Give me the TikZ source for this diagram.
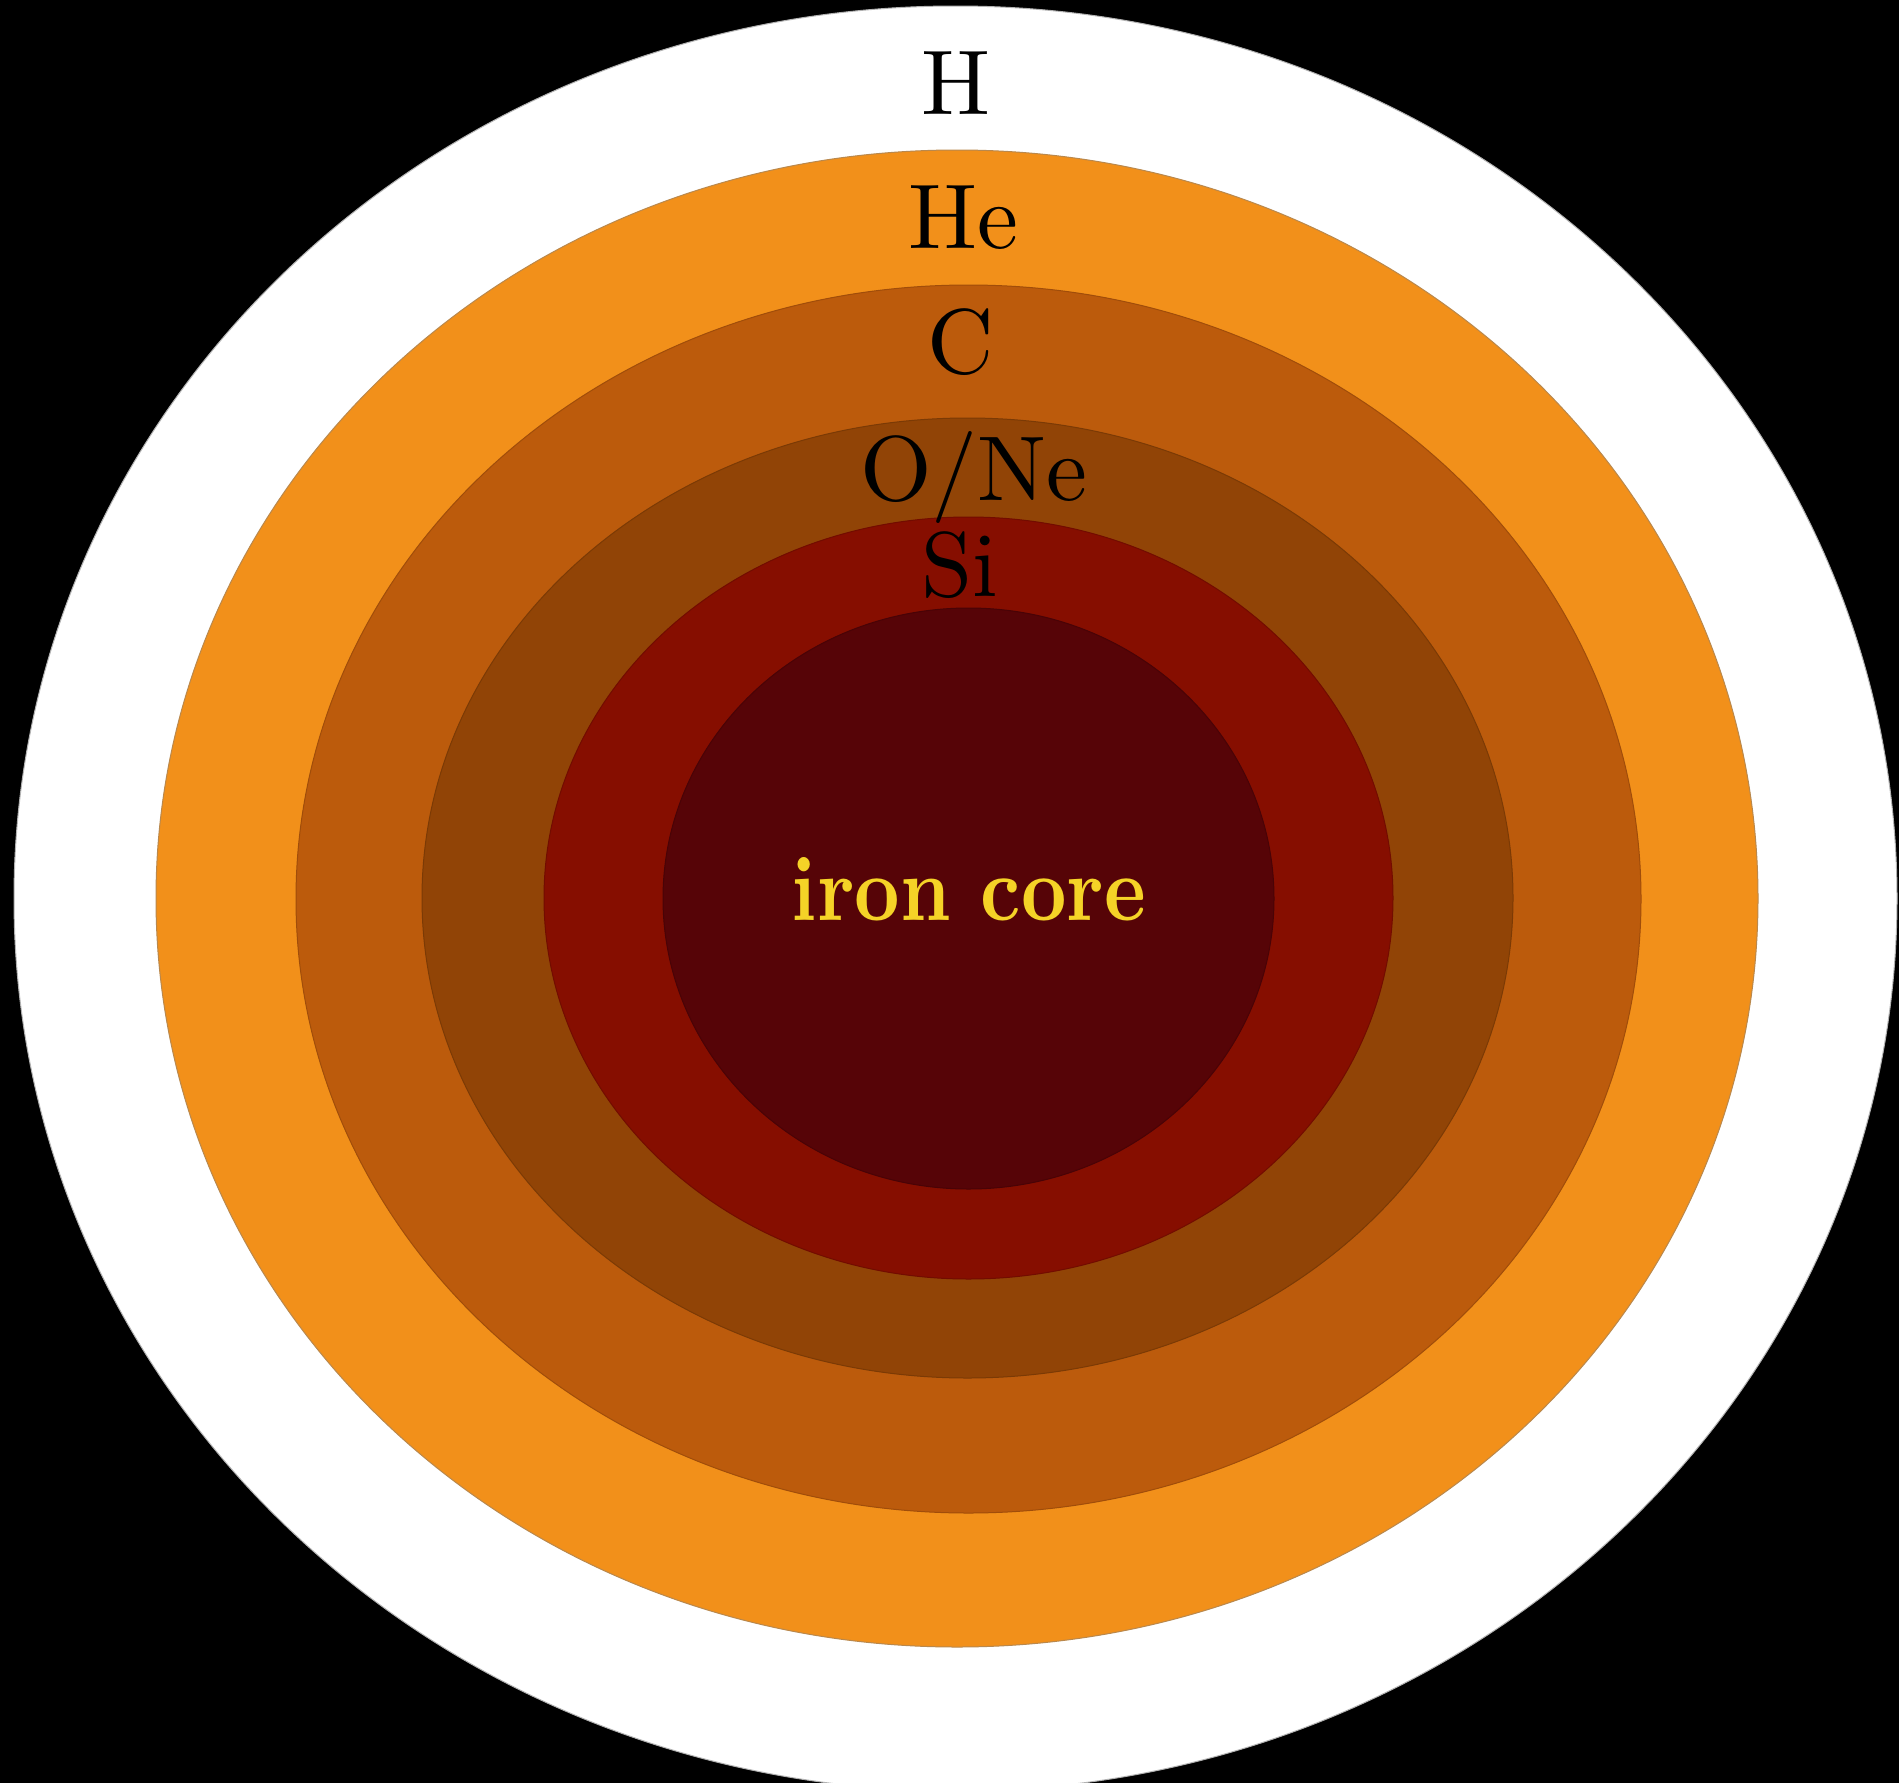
\documentclass[tikz,border=0pt]{standalone}
\usepackage{fontspec}
\setmainfont{lmroman10}[Extension=.otf, UprightFont=*-regular, BoldFont=*-bold]
\definecolor{shellH}{HTML}{FFFFFF}
\definecolor{shellHe}{HTML}{F2901A}
\definecolor{shellC}{HTML}{BC5B0C}
\definecolor{shellO}{HTML}{914406}
\definecolor{shellSi}{HTML}{860E00}
\definecolor{shellFe}{HTML}{560407}
\definecolor{coretext}{HTML}{F5D327}
\begin{document}
\begin{tikzpicture}[x=1pt,y=-1pt,
  lbl/.style={anchor=base,inner sep=0pt,font=\fontsize{92}{100}\selectfont,text=black},
  corelbl/.style={anchor=base,inner sep=0pt,font=\fontsize{92}{100}\selectfont\bfseries,text=coretext},
  shell/.style={line width=1pt}]
\useasboundingbox (0,0) rectangle (1899,1783);
\clip (0,0) rectangle (1899,1783);
\fill[black] (0,0) rectangle (1899,1783);
\fill[shellH, draw=gray!60, shell] (955.5,898.5) ellipse [x radius=941.5pt, y radius=892.5pt];
\fill[shellHe, draw=gray!50!shellHe, shell] (957,898.5) ellipse [x radius=801pt, y radius=748.5pt];
\fill[shellC, draw=shellC!85!black, shell] (968.5,899) ellipse [x radius=672.5pt, y radius=614pt];
\fill[shellO, draw=shellO!85!black, shell] (967.5,898) ellipse [x radius=545.5pt, y radius=480pt];
\fill[shellSi, draw=shellSi!85!black, shell] (968.5,898) ellipse [x radius=424.5pt, y radius=381pt];
\fill[shellFe, draw=shellFe!85!black, shell] (968.5,898.5) ellipse [x radius=305.5pt, y radius=290.5pt];
\node[lbl] (h) at (955.5,114) {H};
\node[lbl] (he) at (963,248) {He};
\node[lbl] (c) at (961,373) {C};
\node[lbl] (one) at (974,500) {O/Ne};
\node[lbl] (si) at (960,596) {Si};
\node[corelbl] (fe) at (969,920) {\scalebox{0.86}[1]{iron core}};
\end{tikzpicture}
\end{document}
